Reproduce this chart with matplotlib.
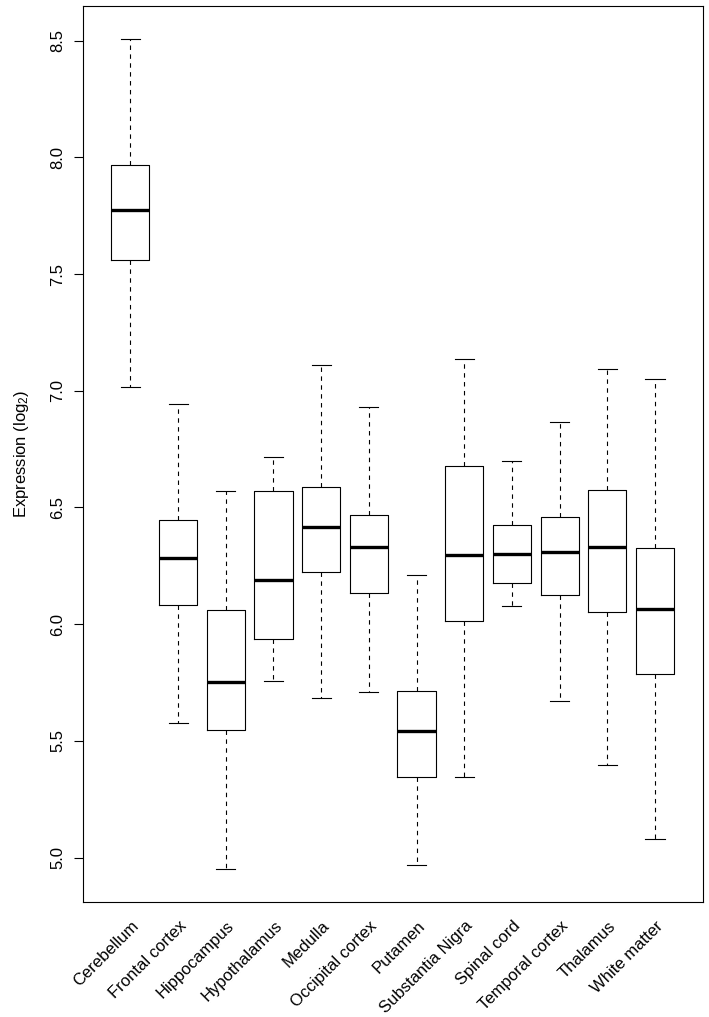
import matplotlib
matplotlib.use("Agg")
import matplotlib.pyplot as plt
import matplotlib.transforms as mtransforms

plt.rcParams['font.family'] = ['Liberation Sans', 'DejaVu Sans']
plt.rcParams['mathtext.fontset'] = 'custom'
plt.rcParams['mathtext.rm'] = 'Liberation Sans'
plt.rcParams['mathtext.it'] = 'Liberation Sans:italic'

regions = ["Cerebellum", "Frontal cortex", "Hippocampus", "Hypothalamus", "Medulla",
           "Occipital cortex", "Putamen", "Substantia Nigra", "Spinal cord",
           "Temporal cortex", "Thalamus", "White matter"]
whisker_low = [7.016, 5.575, 4.952, 5.757, 5.684, 5.710, 4.967, 5.345, 6.078, 5.670, 5.398, 5.078]
q1 = [7.560, 6.082, 5.548, 5.938, 6.224, 6.132, 5.344, 6.014, 6.175, 6.126, 6.052, 5.787]
median = [7.773, 6.284, 5.752, 6.191, 6.416, 6.332, 5.542, 6.296, 6.302, 6.309, 6.331, 6.066]
q3 = [7.966, 6.445, 6.062, 6.572, 6.587, 6.468, 5.715, 6.678, 6.424, 6.461, 6.576, 6.326]
whisker_high = [8.506, 6.945, 6.569, 6.718, 7.112, 6.929, 6.212, 7.136, 6.699, 6.864, 7.092, 7.052]
yticks = [5.0, 5.5, 6.0, 6.5, 7.0, 7.5, 8.0, 8.5]

stats = []
for name, lo, a, m, b, hi in zip(regions, whisker_low, q1, median, q3, whisker_high):
    stats.append(dict(label=name, whislo=lo, q1=a, med=m, q3=b, whishi=hi, fliers=[]))

fig = plt.figure(figsize=(7.09, 10.17), dpi=100)
ax = fig.add_axes([82.7/709, 1-902/1017, (702.7-82.7)/709, (902-6)/1017])

positions = list(range(1, len(regions)+1))
ax.bxp(stats, positions=positions, widths=0.8, capwidths=0.4, showfliers=False,
       boxprops=dict(color='black', linewidth=0.8),
       medianprops=dict(color='black', linewidth=2.4, solid_capstyle='butt'),
       whiskerprops=dict(color='black', linewidth=0.8, linestyle=(0, (4, 4))),
       capprops=dict(color='black', linewidth=0.8))

ax.set_xlim(0, 13)
lo_all = min(whisker_low); hi_all = max(whisker_high)
ext = (hi_all - lo_all) * 0.04
ax.set_ylim(lo_all - ext, hi_all + ext)

ax.set_yticks(yticks)
ax.set_yticklabels([f"{t:.1f}" for t in yticks], rotation=90, va='center', fontsize=12)
ax.tick_params(axis='y', length=6.5, width=0.8, pad=6)
ax.set_xticks([])
for s in ax.spines.values():
    s.set_linewidth(0.8)
    s.set_color('black')

ax.set_ylabel(r'Expression (log$_2$)', fontsize=12, labelpad=14)

offset = mtransforms.ScaledTranslation(0.06, -0.215, fig.dpi_scale_trans)
trans = mtransforms.blended_transform_factory(ax.transData, ax.transAxes) + offset
for p, name in zip(positions, regions):
    ax.text(p, 0, name, transform=trans, rotation=45, rotation_mode='anchor',
            ha='right', va='center', fontsize=12)

fig.savefig("out.png", dpi=100)
